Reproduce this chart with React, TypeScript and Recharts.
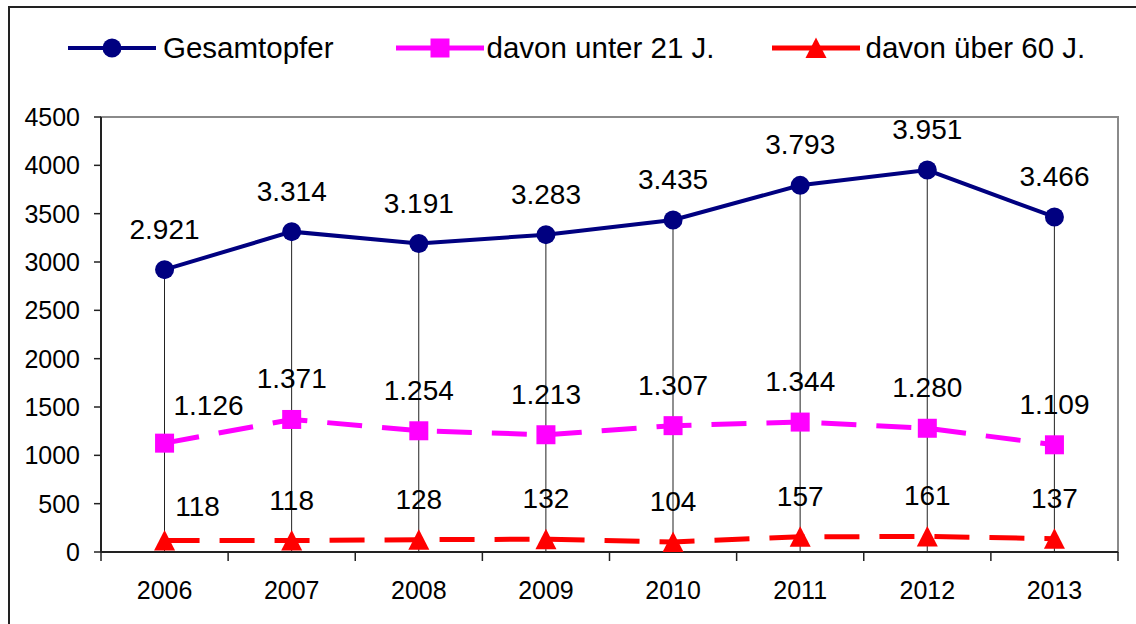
import React from "react";
import {
  ComposedChart, Line, Bar, XAxis, YAxis, Legend, LabelList, ReferenceArea,
} from "recharts";

const years = ["2006", "2007", "2008", "2009", "2010", "2011", "2012", "2013"];
const gesamt = [2921, 3314, 3191, 3283, 3435, 3793, 3951, 3466];
const unter21 = [1126, 1371, 1254, 1213, 1307, 1344, 1280, 1109];
const ueber60 = [118, 118, 128, 132, 104, 157, 161, 137];
const yTicks = [0, 500, 1000, 1500, 2000, 2500, 3000, 3500, 4000, 4500];

const FONT = "'Liberation Sans', Arial, sans-serif";
const NAVY = "#000080";
const MAGENTA = "#FF00FF";
const RED = "#FF0000";

const data = years.map((y, i) => ({
  year: y,
  gesamt: gesamt[i],
  unter21: unter21[i],
  ueber60: ueber60[i],
}));

const fmt = (v: number) => String(v).replace(/\B(?=(\d{3})+(?!\d))/g, ".");

// marker shapes
const circle = (cx: number, cy: number, key?: any) => (
  <circle key={key} cx={cx} cy={cy} r={9.5} fill={NAVY} />
);
const square = (cx: number, cy: number, key?: any) => (
  <rect key={key} x={cx - 9.5} y={cy - 9.5} width={19} height={19} fill={MAGENTA} />
);
const triangle = (cx: number, cy: number, key?: any) => (
  <path key={key} d={`M${cx},${cy - 10.5}L${cx + 10.5},${cy + 10}L${cx - 10.5},${cy + 10}Z`} fill={RED} />
);

const legendItems = [
  { name: "Gesamtopfer", color: NAVY, marker: circle, width: 4, gap: 7, after: 62 },
  { name: "davon unter 21 J.", color: MAGENTA, marker: square, width: 5, gap: 3, after: 57 },
  { name: "davon über 60 J.", color: RED, marker: triangle, width: 5, gap: 6, after: 0 },
];

function LegendBox() {
  return (
    <div style={{ display: "flex", alignItems: "center", paddingLeft: 68, fontFamily: FONT, fontSize: 29.5, color: "#000" }}>
      {legendItems.map((it) => (
        <div key={it.name} style={{ display: "flex", alignItems: "center", marginRight: it.after }}>
          <svg width={88} height={24} style={{ marginRight: it.gap }}>
            <line x1={0} y1={12} x2={88} y2={12} stroke={it.color} strokeWidth={it.width} />
            {it.marker(44, 12)}
          </svg>
          <span style={{ lineHeight: "32px" }}>{it.name}</span>
        </div>
      ))}
    </div>
  );
}

// data label: first point of the small series is moved to the right
const makeLabel = (first?: { dx: number; dy: number }) => (props: any) => {
  const { x, y, value, index } = props;
  const dx = index === 0 && first ? first.dx : 0;
  const dy = index === 0 && first ? first.dy : -31;
  return (
    <text x={x + dx} y={y + dy} textAnchor="middle" fontFamily={FONT} fontSize={28} fill="#000">
      {fmt(value)}
    </text>
  );
};

const XTick = (props: any) => {
  const { x, y, payload, index, width, visibleTicksCount } = props;
  const half = payload.offset || width / visibleTicksCount / 2;
  return (
    <g>
      <line x1={x - half} y1={y} x2={x - half} y2={y + 9} stroke="#222" strokeWidth={1.5} />
      {index === visibleTicksCount - 1 && (
        <line x1={x + half} y1={y} x2={x + half} y2={y + 9} stroke="#222" strokeWidth={1.5} />
      )}
      <text x={x} y={y + 47} textAnchor="middle" fontFamily={FONT} fontSize={25} fill="#000">
        {payload.value}
      </text>
    </g>
  );
};

export default function App() {
  return (
    <div style={{ position: "absolute", left: 0, top: 0, width: 1136, height: 624, overflow: "hidden", background: "#fff" }}>
      <ComposedChart
        width={1136}
        height={624}
        data={data}
        margin={{ top: 117, right: 18, left: 0, bottom: 32 }}
      >
        <ReferenceArea x1="2006" x2="2013" y1={0} y2={4500} fill="none" stroke="#8a8a8a" strokeWidth={2} ifOverflow="visible" />
        <XAxis
          dataKey="year"
          height={40}
          tickSize={0}
          tickMargin={0}
          tick={<XTick />}
          axisLine={{ stroke: "#222", strokeWidth: 2 }}
          tickLine={false}
          interval={0}
        />
        <YAxis
          width={101}
          domain={[0, 4500]}
          ticks={yTicks}
          tickSize={7}
          tickMargin={14}
          tick={{ fontFamily: FONT, fontSize: 25, fill: "#000" }}
          axisLine={{ stroke: "#222", strokeWidth: 2 }}
          tickLine={{ stroke: "#222", strokeWidth: 1.5 }}
        />
        <Legend
          verticalAlign="middle"
          align="center"
          layout="horizontal"
          wrapperStyle={{ top: 32, left: 0, width: 1136 }}
          content={() => <LegendBox />}
        />
        {/* drop lines from the total series to the axis */}
        <Bar dataKey="gesamt" barSize={1} fill="#222" isAnimationActive={false} legendType="none" />
        <Line
          dataKey="ueber60"
          stroke={RED}
          strokeWidth={5}
          strokeDasharray="35 20"
          dot={(p: any) => triangle(p.cx, p.cy, p.key ?? p.index)}
          activeDot={false}
          isAnimationActive={false}
        >
          <LabelList dataKey="ueber60" content={makeLabel({ dx: 33, dy: -25 })} />
        </Line>
        <Line
          dataKey="unter21"
          stroke={MAGENTA}
          strokeWidth={5}
          strokeDasharray="35 20"
          dot={(p: any) => square(p.cx, p.cy, p.key ?? p.index)}
          activeDot={false}
          isAnimationActive={false}
        >
          <LabelList dataKey="unter21" content={makeLabel({ dx: 44, dy: -28 })} />
        </Line>
        <Line
          dataKey="gesamt"
          stroke={NAVY}
          strokeWidth={4}
          dot={(p: any) => circle(p.cx, p.cy, p.key ?? p.index)}
          activeDot={false}
          isAnimationActive={false}
        >
          <LabelList dataKey="gesamt" content={makeLabel()} />
        </Line>
      </ComposedChart>
      {/* outer frame of the chart object, cut at the right and bottom */}
      <div style={{ position: "absolute", left: 8, top: 6, width: 1300, height: 800, borderTop: "2px solid #222", borderLeft: "2px solid #222", pointerEvents: "none", zIndex: 5 }} />
    </div>
  );
}
